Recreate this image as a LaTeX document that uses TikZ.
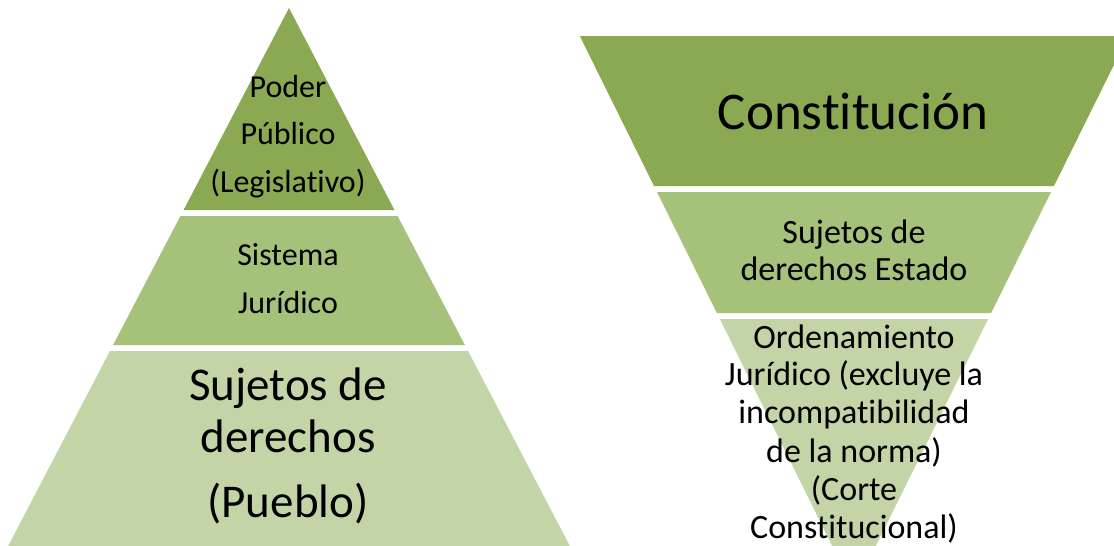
\documentclass[tikz,border=0pt]{standalone}
\usepackage{fontspec}
\setmainfont[Ligatures=NoCommon]{Carlito}
\definecolor{gdark}{HTML}{8BA952}
\definecolor{gmid}{HTML}{A6C17A}
\definecolor{glight}{HTML}{C3D4A6}
\tikzset{
  lbl/.style={anchor=base,inner sep=0pt,text=black},
  sz32/.style={font=\fontsize{32}{38}\selectfont},
  sz34/.style={font=\fontsize{34}{40}\selectfont},
  sz47/.style={font=\fontsize{47}{56}\selectfont},
  sz53/.style={font=\fontsize{53}{64}\selectfont},
}
\begin{document}
\begin{tikzpicture}[x=1pt,y=-1pt]
\useasboundingbox (0,0) rectangle (1114,546);
\begin{scope}
\clip (0,0) rectangle (1114,546);
% left pyramid: apex (289,8), slope 0.522
\fill[gdark] (289,8) -- ({289-0.522*202},210) -- ({289+0.522*202},210) -- cycle;
\fill[gmid] ({289-0.522*208},216) -- ({289+0.522*208},216) -- ({289+0.522*337},345) -- ({289-0.522*337},345) -- cycle;
\fill[glight] ({289-0.522*343},351) -- ({289+0.522*343},351) -- ({289+0.522*538},546) -- ({289-0.522*538},546) -- cycle;
% right inverted pyramid: apex (854,590), slope 0.495
\fill[gdark] ({854-0.495*554},36) -- ({854+0.495*554},36) -- ({854+0.495*404},186) -- ({854-0.495*404},186) -- cycle;
\fill[gmid] ({854-0.495*398},192) -- ({854+0.495*398},192) -- ({854+0.495*277},313) -- ({854-0.495*277},313) -- cycle;
\fill[glight] ({854-0.495*271},319) -- ({854+0.495*271},319) -- (854,590) -- cycle;
\end{scope}
% left texts
\node[lbl,sz32] (p1) at (288,97) {Poder};
\node[lbl,sz32] (p2) at (288,144) {Público};
\node[lbl,sz32] (p3) at (288,192) {(Legislativo)};
\node[lbl,sz32] (s1) at (288,265) {Sistema};
\node[lbl,sz32] (s2) at (288,313) {Jurídico};
\node[lbl,sz47] (b1) at (288,400) {Sujetos de};
\node[lbl,sz47] (b2) at (288,452) {derechos};
\node[lbl,sz47] (b3) at (288,517) {(Pueblo)};
% right texts
\node[lbl,sz53] (c1) at (853,129) {Constitución};
\node[lbl,sz34] (e1) at (854,243) {Sujetos de};
\node[lbl,sz34] (e2) at (854,280) {derechos Estado};
\node[lbl,sz34] (o1) at (854,348) {Ordenamiento};
\node[lbl,sz34] (o2) at (854,385) {Jurídico (excluye la};
\node[lbl,sz34] (o3) at (854,423) {incompatibilidad};
\node[lbl,sz34] (o4) at (854,462) {de la norma)};
\node[lbl,sz34] (o5) at (854,500) {(Corte};
\node[lbl,sz34] (o6) at (854,538) {Constitucional)};
\end{tikzpicture}
\end{document}
